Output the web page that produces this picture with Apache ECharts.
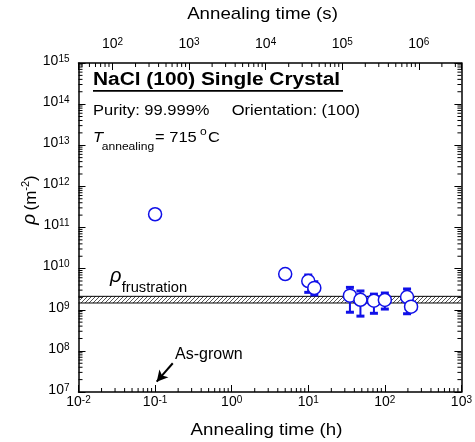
<!DOCTYPE html>
<html>
<head>
<meta charset="utf-8">
<title>NaCl (100) dislocation density vs annealing time</title>
<script src="https://cdn.jsdelivr.net/npm/echarts@6/dist/echarts.min.js"></script>
<style>
	body { margin: 0; padding: 0; background: #fff; }
	#chart { width: 475px; height: 442px; }
</style>
</head>
<body>
<div id="chart"></div>
<script>
	// 退火时间 (h) 与位错密度 (m^-2)
	var anneal_h = [0.1, 5, 10, 12, 35, 48, 72, 100, 195, 220];
	var rho = [2.1e11, 7.4e9, 5.0e9, 3.4e9, 2.2e9, 1.75e9, 1.66e9, 1.73e9, 2.04e9, 1.19e9];
	// 误差棒
	var err_h = [10, 12, 35, 48, 72, 100, 195];
	var err_low = [2.65e9, 2.3e9, 8.7e8, 7.0e8, 8.2e8, 1.04e9, 8.0e8];
	var err_high = [7.0e9, 4.8e9, 3.5e9, 2.86e9, 2.4e9, 2.55e9, 3.2e9];
	// rho_frustration 带
	var band_low = 1.46e9;
	var band_high = 2.12e9;
	// As-grown 箭头
	var arrow_from = [0.17, 5.0e7];
	var arrow_to = [0.105, 1.78e7];

	var x_range = [0.01, 1000];
	var xs_range = [36, 3.6e6];
	var y_range = [1e7, 1e15];

	var FONT = '"Liberation Sans", Arial, sans-serif';
	var BLUE = '#1010e8';

	// 对数次刻度 2..9 x 10^n
	function minorTicks(lo, hi) {
		var out = [];
		for (var k = Math.floor(Math.log10(lo)); k <= Math.ceil(Math.log10(hi)); k++) {
			for (var m = 2; m <= 9; m++) {
				var v = m * Math.pow(10, k);
				if (v > lo && v < hi) out.push(v);
			}
		}
		return out;
	}

	function tickSeries(xi, side, vals) {
		var data = vals.map(function (v) {
			if (side == 'bottom') return [v, y_range[0]];
			if (side == 'top') return [v, y_range[1]];
			if (side == 'left') return [x_range[0], v];
			return [x_range[1], v];
		});
		return {
			type: 'custom',
			xAxisIndex: xi,
			yAxisIndex: 0,
			silent: true,
			z: 5,
			data: data,
			renderItem: function (params, api) {
				var p = api.coord([api.value(0), api.value(1)]);
				var dx = 0, dy = 0;
				if (side == 'bottom') dy = -4;
				if (side == 'top') dy = 4;
				if (side == 'left') dx = 4;
				if (side == 'right') dx = -4;
				return {
					type: 'line',
					shape: { x1: p[0], y1: p[1], x2: p[0] + dx, y2: p[1] + dy },
					style: { stroke: '#000', lineWidth: 1 }
				};
			}
		};
	}

	// 斜线填充
	var hatch = document.createElement('canvas');
	hatch.width = 4;
	hatch.height = 4;
	var hctx = hatch.getContext('2d');
	hctx.strokeStyle = '#555';
	hctx.lineWidth = 1;
	hctx.beginPath();
	hctx.moveTo(0, 4); hctx.lineTo(4, 0);
	hctx.moveTo(-1, 1); hctx.lineTo(1, -1);
	hctx.moveTo(3, 5); hctx.lineTo(5, 3);
	hctx.stroke();

	function powLabel(v) {
		var lg = Math.log10(v);
		var e = Math.round(lg);
		if (Math.abs(lg - e) > 1e-6) return '';
		return '{b|10}{s|' + e + '}';
	}
	var labelRich = {
		b: { fontSize: 14, fontFamily: FONT, color: '#000', lineHeight: 14, verticalAlign: 'bottom' },
		s: { fontSize: 10, fontFamily: FONT, color: '#000', lineHeight: 10, verticalAlign: 'top', padding: [0, 0, 8, 0] }
	};

	function logAxis(pos, range, showLabel, margin, extra) {
		var ax = {
			type: 'log',
			logBase: 10,
			position: pos,
			min: range[0],
			max: range[1],
			axisLine: { show: true, onZero: false, lineStyle: { color: '#000', width: 1.5 } },
			axisTick: { show: true, inside: true, length: 7, lineStyle: { color: '#000', width: 1 } },
			splitLine: { show: false },
			axisLabel: {
				show: showLabel,
				margin: margin,
				formatter: powLabel,
				rich: labelRich,
				showMinLabel: true,
				showMaxLabel: true
			}
		};
		for (var k in extra) ax.axisLabel[k] = extra[k];
		return ax;
	}

	var scatter_data = anneal_h.map(function (t, i) { return [t, rho[i]]; });
	var err_data = err_h.map(function (t, i) { return [t, err_low[i], err_high[i]]; });

	var chart = echarts.init(document.getElementById('chart'));
	var option = {
		backgroundColor: '#fff',
		animation: false,
		grid: { left: 78.5, right: 12, top: 63, bottom: 50 },
		xAxis: [
			logAxis('bottom', x_range, true, 3, {}),
			logAxis('top', xs_range, true, 12, {})
		],
		yAxis: [
			logAxis('left', y_range, true, 9, { padding: [0, 0, 4, 0] }),
			logAxis('right', y_range, false, 8, {})
		],
		graphic: [
			{ type: 'text', x: 93, y: 80.5, scaleX: 1.16, style: { text: 'NaCl (100) Single Crystal', font: 'bold 18px ' + FONT, fill: '#000', verticalAlign: 'middle' } },
			{ type: 'line', shape: { x1: 93, y1: 90.8, x2: 343, y2: 90.8 }, style: { stroke: '#000', lineWidth: 1.8 } },
			{ type: 'text', x: 93, y: 111.2, scaleX: 1.1, style: { text: 'Purity: 99.999%', font: '15px ' + FONT, fill: '#000', verticalAlign: 'middle' } },
			{ type: 'text', x: 231.7, y: 111.2, scaleX: 1.1, style: { text: 'Orientation: (100)', font: '15px ' + FONT, fill: '#000', verticalAlign: 'middle' } },
			{ type: 'text', x: 93, y: 137.5, scaleX: 1.1, style: { text: 'T', font: 'italic 15px ' + FONT, fill: '#000', verticalAlign: 'middle' } },
			{ type: 'text', x: 101.7, y: 147, scaleX: 1.1, style: { text: 'annealing', font: '11px ' + FONT, fill: '#000', verticalAlign: 'middle' } },
			{ type: 'text', x: 155, y: 137.5, scaleX: 1.1, style: { text: '= 715', font: '15px ' + FONT, fill: '#000', verticalAlign: 'middle' } },
			{ type: 'text', x: 200, y: 132, scaleX: 1.1, style: { text: 'o', font: '11px ' + FONT, fill: '#000', verticalAlign: 'middle' } },
			{ type: 'text', x: 208, y: 137.5, scaleX: 1.1, style: { text: 'C', font: '15px ' + FONT, fill: '#000', verticalAlign: 'middle' } },
			{ type: 'text', x: 110, y: 276, style: { text: 'ρ', font: 'italic 20px ' + FONT, fill: '#000', verticalAlign: 'middle' } },
			{ type: 'text', x: 121.7, y: 288.4, scaleX: 1.05, style: { text: 'frustration', font: '14px ' + FONT, fill: '#000', verticalAlign: 'middle' } },
			{ type: 'text', x: 175, y: 355, style: { text: 'As-grown', font: '16px ' + FONT, fill: '#000', verticalAlign: 'middle' } },
			{ type: 'text', x: 262.5, y: 14, scaleX: 1.1, style: { text: 'Annealing time (s)', font: '17px ' + FONT, fill: '#000', align: 'center', verticalAlign: 'middle' } },
			{ type: 'text', x: 266.5, y: 430.5, scaleX: 1.1, style: { text: 'Annealing time (h)', font: '17px ' + FONT, fill: '#000', align: 'center', verticalAlign: 'middle' } },
			{
				type: 'text', x: 30, y: 200, rotation: Math.PI / 2,
				style: {
					text: '{r|ρ} {b|(m}{s|-2}{b|)}', align: 'center', verticalAlign: 'middle',
					rich: {
						r: { font: 'italic 19px ' + FONT, fill: '#000', lineHeight: 19, verticalAlign: 'bottom' },
						b: { font: '17px ' + FONT, fill: '#000', lineHeight: 17, verticalAlign: 'bottom' },
						s: { font: '11px ' + FONT, fill: '#000', lineHeight: 11, verticalAlign: 'top', padding: [0, 0, 8, 0] }
					}
				}
			}
		],
		series: [
			{
				// rho_frustration 带
				type: 'custom',
				silent: true,
				z: 1,
				data: [[x_range[0], band_low, x_range[1], band_high]],
				renderItem: function (params, api) {
					var a = api.coord([api.value(0), api.value(3)]);
					var b = api.coord([api.value(2), api.value(1)]);
					return {
						type: 'group',
						children: [
							{ type: 'rect', shape: { x: a[0], y: a[1], width: b[0] - a[0], height: b[1] - a[1] }, style: { fill: { image: hatch, repeat: 'repeat' } } },
							{ type: 'line', shape: { x1: a[0], y1: a[1], x2: b[0], y2: a[1] }, style: { stroke: '#000', lineWidth: 1 } },
							{ type: 'line', shape: { x1: a[0], y1: b[1], x2: b[0], y2: b[1] }, style: { stroke: '#000', lineWidth: 1 } }
						]
					};
				}
			},
			{
				// 误差棒
				type: 'custom',
				silent: true,
				z: 2,
				encode: { x: 0, y: [1, 2] },
				data: err_data,
				renderItem: function (params, api) {
					var lo = api.coord([api.value(0), api.value(1)]);
					var hi = api.coord([api.value(0), api.value(2)]);
					return {
						type: 'group',
						children: [
							{ type: 'line', shape: { x1: lo[0], y1: lo[1], x2: hi[0], y2: hi[1] }, style: { stroke: BLUE, lineWidth: 2 } },
							{ type: 'rect', shape: { x: hi[0] - 4, y: hi[1] - 1.5, width: 8, height: 3 }, style: { fill: BLUE } },
							{ type: 'rect', shape: { x: lo[0] - 4, y: lo[1] - 1.5, width: 8, height: 3 }, style: { fill: BLUE } }
						]
					};
				}
			},
			{
				type: 'scatter',
				z: 3,
				symbol: 'circle',
				symbolSize: 13,
				itemStyle: { color: '#fff', borderColor: BLUE, borderWidth: 1.5, opacity: 1 },
				data: scatter_data,
				markLine: {
					silent: true,
					symbol: ['none', 'arrow'],
					symbolSize: [9, 11],
					label: { show: false },
					lineStyle: { color: '#000', width: 2, type: 'solid' },
					data: [[{ coord: arrow_from }, { coord: arrow_to }]]
				}
			},
			tickSeries(0, 'bottom', minorTicks(x_range[0], x_range[1])),
			tickSeries(1, 'top', minorTicks(xs_range[0], xs_range[1])),
			tickSeries(0, 'left', minorTicks(y_range[0], y_range[1])),
			tickSeries(0, 'right', minorTicks(y_range[0], y_range[1]))
		]
	};
	chart.setOption(option);
</script>
</body>
</html>
